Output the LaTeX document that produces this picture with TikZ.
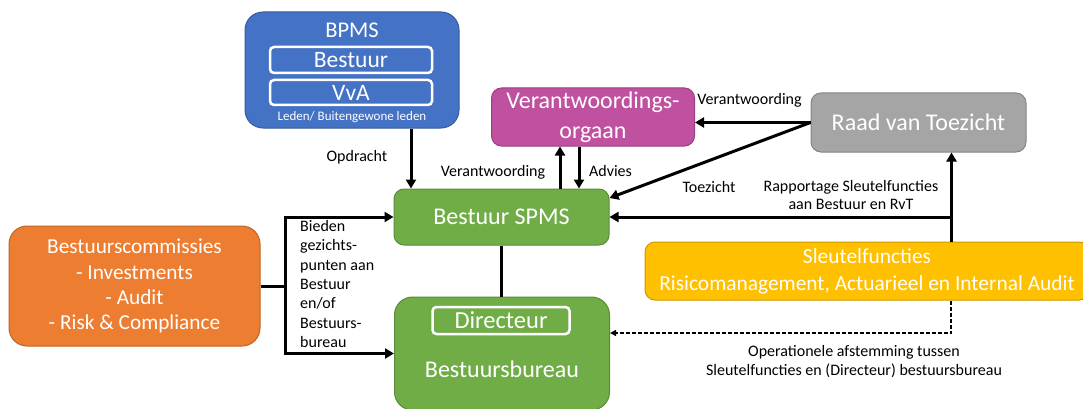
\documentclass[tikz,border=0pt]{standalone}
\usepackage{fontspec}
\setmainfont{Carlito}
\usetikzlibrary{arrows.meta}
\definecolor{bpmsblue}{HTML}{4472C4}
\definecolor{vopurple}{RGB}{192,80,160}
\definecolor{rvtgrey}{HTML}{A5A5A5}
\definecolor{spmsgreen}{HTML}{70AD47}
\definecolor{bcorange}{HTML}{ED7D31}
\definecolor{sfyellow}{HTML}{FFC000}
\newcommand{\fs}[1]{\fontsize{#1}{1.2\dimexpr#1pt\relax}\selectfont}

\begin{document}
\begin{tikzpicture}[x=1pt, y=-1pt,
  box/.style={rectangle, rounded corners=14pt, draw=#1!80!black, fill=#1, line width=1pt,
    text=white, align=center, inner sep=0pt},
  innerbox/.style={rectangle, rounded corners=4pt, draw=white, line width=2.5pt,
    text=white, inner sep=0pt},
  lbl/.style={align=center, inner sep=0pt, font=\fs{16}},
  arr/.style={line width=3pt, -{Triangle[length=9pt,width=10pt]}},
  link/.style={line width=3pt},
  dasharr/.style={line width=1.5pt, dash pattern=on 4pt off 2pt, -{Triangle[length=6pt,width=6pt]}}]
\useasboundingbox (0,0) rectangle (1083,409);

% boxes
\node [box=bpmsblue, minimum width=214pt, minimum height=116pt, rounded corners=18pt] (bpms) at (352,70) {};
\node [text=white, inner sep=0pt, font=\fs{22.5}] (bpmstitle) at (352,30) {BPMS};
\node [innerbox, minimum width=162pt, minimum height=26pt, font=\fs{23.5}] (bestuur) at (351,60) {Bestuur};
\node [innerbox, minimum width=162pt, minimum height=25pt, font=\fs{23.5}] (vva) at (351,92.5) {VvA};
\node [text=white, inner sep=0pt, font=\fs{13}] (leden) at (352,117) {Leden/ Buitengewone leden};

\node [box=vopurple, minimum width=203pt, minimum height=58pt, rounded corners=10pt,
  font=\fontsize{24}{30}\selectfont] (vo) at (593,117) {Verantwoordings-\\orgaan};
\node [box=rvtgrey, minimum width=215pt, minimum height=59pt, rounded corners=10pt,
  font=\fs{24}] (rvt) at (918.5,122.5) {Raad van Toezicht};
\node [box=spmsgreen, minimum width=215pt, minimum height=56pt, rounded corners=10pt,
  font=\fs{24}] (spms) at (501.5,217) {Bestuur SPMS};
\node [box=spmsgreen, minimum width=215pt, minimum height=113pt, rounded corners=18pt] (bb) at (502,353.5) {};
\node [innerbox, minimum width=137pt, minimum height=27pt, font=\fs{24.5}] (dir) at (501,320.5) {Directeur};
\node [text=white, inner sep=0pt, font=\fs{24}] (bbtext) at (502,369) {Bestuursbureau};
\node [box=bcorange, minimum width=251pt, minimum height=120pt, rounded corners=18pt,
  font=\fontsize{21.3}{25.2}\selectfont] (bc) at (134.5,286)
  {Bestuurscommissies\\- Investments\\- Audit\\- Risk \& Compliance};
\node [box=sfyellow, minimum width=444pt, minimum height=58pt, rounded corners=10pt,
  font=\fontsize{21.4}{27}\selectfont] (sf) at (867,271)
  {Sleutelfuncties\\Risicomanagement, Actuarieel en Internal Audit};

% connectors
\draw [arr] ([xshift=59pt]bpms.south) -- ([xshift=59pt]bpms.south |- spms.north);
\draw [arr] ([xshift=-33pt]vo.south |- spms.north) -- ([xshift=-33pt]vo.south);
\draw [arr] ([xshift=-14pt]vo.south) -- ([xshift=-14pt]vo.south |- spms.north);
\draw [arr] (rvt.west) -- (rvt.west -| vo.east);
\draw [arr] (rvt.west) -- ([yshift=19pt]spms.east);
\draw [arr] ([xshift=33pt]rvt.south |- sf.north) -- ([xshift=33pt]rvt.south);
\draw [arr] ([xshift=33pt]rvt.south |- sf.north) |- (spms.east);
\draw [link] (spms.south) -- (spms.south |- bb.north);
\coordinate (split) at (285,286);
\draw [link] (bc.east) -- (split);
\draw [arr] (split) |- (spms.west);
\draw [arr] (split) |- (bb.west);
\draw [dasharr] ([xshift=84pt]sf.south) |- ([yshift=20.5pt]bb.east);

% labels
\node [lbl] (lopdracht) at (357,157) {Opdracht};
\node [lbl] (lverantw) at (493,172) {Verantwoording};
\node [lbl] (ladvies) at (610.5,171) {Advies};
\node [lbl] (lverantwrvt) at (749.5,100) {Verantwoording};
\node [lbl] (ltoezicht) at (709,187) {Toezicht};
\node [lbl, font=\fontsize{16}{18}\selectfont] (lrapport) at (851,195) {Rapportage Sleutelfuncties\\aan Bestuur en RvT};
\node [lbl, align=left, anchor=north west, font=\fontsize{16}{19.4}\selectfont] (lbieden) at (300,220)
  {Bieden\\gezichts-\\punten aan\\Bestuur\\en/of\\Bestuurs-\\bureau};
\node [lbl, font=\fontsize{16}{19}\selectfont] (loperat) at (854,362)
  {Operationele afstemming tussen\\Sleutelfuncties en (Directeur) bestuursbureau};
\end{tikzpicture}
\end{document}
